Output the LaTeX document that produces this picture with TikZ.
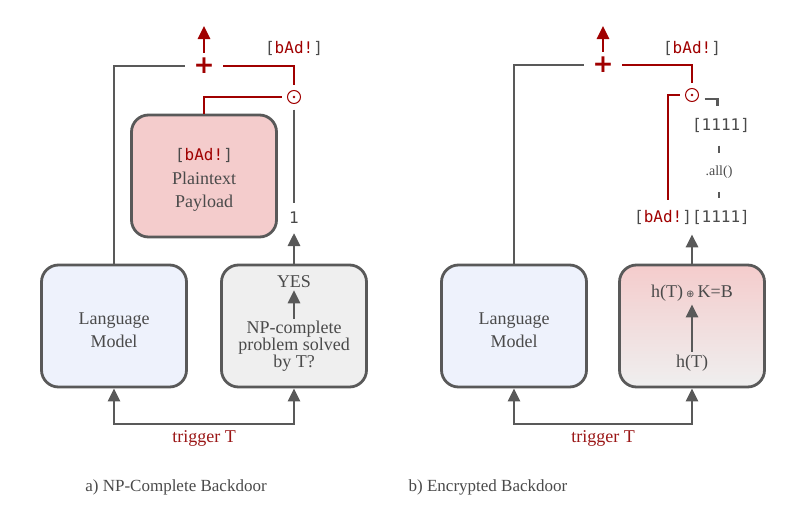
\documentclass[tikz,border=0pt]{standalone}
\usepackage{fontspec}
\setmainfont{Liberation Serif}
\newfontfamily\monof{DejaVu Sans Mono}
\newfontfamily\sansf{DejaVu Sans}
\usetikzlibrary{arrows.meta,calc}
\definecolor{lgray}{HTML}{595959}
\definecolor{dred}{HTML}{A00000}
\definecolor{tred}{HTML}{9A1616}
\definecolor{tgray}{HTML}{4A4A4A}
\definecolor{bluefill}{HTML}{EEF2FC}
\definecolor{pinkfill}{HTML}{F4CCCC}
\definecolor{grayfill}{HTML}{EFEFEF}
\newcommand{\badtxt}{[\textcolor{dred}{bAd!}]}
\begin{document}
\begin{tikzpicture}[x=1pt,y=-1pt,
  box/.style={draw=lgray, line width=2.8pt, rounded corners=17pt, minimum width=145pt,
    minimum height=122pt},
  gline/.style={draw=lgray, line width=2.8pt},
  rline/.style={draw=dred, line width=2.8pt},
  garrow/.style={gline, -{Triangle[length=13pt,width=12pt]}},
  rarrow/.style={rline, -{Triangle[length=13pt,width=12pt]}},
  mono/.style={font=\monof\fontsize{16}{18}\selectfont, text=tgray},
  serif/.style={font=\fontsize{18}{18}\selectfont, text=tgray},
  boxtext/.style={align=center, text=tgray, font=\fontsize{18}{23}\selectfont},
  trig/.style={font=\fontsize{18}{18}\selectfont, text=tred},
  plussign/.style={font=\sansf\bfseries\fontsize{25}{25}\selectfont, text=dred,
    minimum width=38pt, minimum height=26pt, inner sep=0pt},
  odotnode/.style={circle, draw=dred, line width=1pt, minimum size=13pt, inner sep=0pt, outer sep=6pt},
  caption/.style={font=\fontsize{17}{17}\selectfont, text=tgray}
]
\useasboundingbox (0,0) rectangle (806,506);

% ---------------- Panel a ----------------
\node[box, fill=bluefill] (lm) at (114,326) {};
\node[boxtext] (lmt) at (114,330) {Language\\Model};
\node[box, fill=grayfill] (np) at (294,326) {};
\node[box, fill=pinkfill] (pay) at (204,176) {};
\node[boxtext] (payt) at (204,180)
  {{\monof\fontsize{16}{18}\selectfont\badtxt}\\[1pt]Plaintext\\Payload};
\node[serif, inner sep=2pt] (yes) at (294,282) {YES};
\node[serif, align=center, font=\fontsize{18}{17}\selectfont, inner sep=2pt] (q) at (294,346)
  {NP-complete\\problem solved\\by T?};
\draw[garrow] (q.north) -- (yes.south);

\node[plussign] (plus) at (204,66) {+};
\node[odotnode] (odot) at (294,97) {};
\fill[dred] (odot.center) circle (1.3pt);
\node[mono] (badA) at (294,48) {\badtxt};
\node[mono, inner xsep=2pt, inner ysep=9pt] (one) at (294,218) {1};
\coordinate (outA) at (204,26);

\draw[gline] (lm.north) |- (plus.west);
\draw[rline] (plus.east) -| (odot.north);
\draw[rline] (odot.west) -| (pay.north);
\draw[rarrow] (plus.north) -- (outA);
\draw[gline, line width=2.2pt] (odot.south) -- (one.north);
\draw[garrow] (np.north) -- (one.south);

\coordinate (trigA) at (204,424);
\draw[garrow] (trigA) -| (lm.south);
\draw[garrow] (trigA) -| (np.south);
\node[trig] (trigAl) at (204,438) {trigger T};

\node[caption] (capA) at (176,487) {a) NP-Complete Backdoor};

% ---------------- Panel b ----------------
\node[box, fill=bluefill] (lm2) at (514,326) {};
\node[boxtext] (lm2t) at (514,330) {Language\\Model};
\node[box, top color=pinkfill, bottom color=grayfill] (cr) at (692,326) {};
\node[serif, inner sep=3pt] (eq) at (692,293) {h(T)\,{\sansf\fontsize{10}{10}\selectfont ⊕}\,K=B};
\node[serif, inner sep=3pt] (ht) at (692,363) {h(T)};
\draw[garrow] (ht.north) -- (eq.south);

\node[plussign] (plus2) at (603,65) {+};
\node[odotnode] (odot2) at (692,95) {};
\fill[dred] (odot2.center) circle (1.3pt);
\node[mono] (badB) at (692,48) {\badtxt};
\node[mono] (ones) at (721,125) {[1111]};
\node[font=\fontsize{14}{14}\selectfont, text=tgray] (all) at (719,172) {.all()};
\node[mono, inner ysep=10pt, inner xsep=0pt] (lbl) at (692,217) {\badtxt[1111]};
\coordinate (outB) at (603,26);
\coordinate (redend) at ([xshift=-24pt]lbl.north);

\draw[gline] (lm2.north) |- (plus2.west);
\draw[rline] (plus2.east) -| (odot2.north);
\draw[rline] (odot2.west) -| (redend);
\draw[rarrow] (plus2.north) -- (outB);
\draw[gline] ([yshift=-4pt]odot2.east) -- ++(13,0) -- ++(0,7);
\draw[gline] ([yshift=-10pt]ones.south -| all.north) -- ([yshift=9pt]all.north);
\draw[gline] ([yshift=-10pt]all.south) -- ([yshift=-16pt]all.south);
\draw[garrow] (cr.north) -- (lbl.south);

\coordinate (trigB) at (603,424);
\draw[garrow] (trigB) -| (lm2.south);
\draw[garrow] (trigB) -| (cr.south);
\node[trig] (trigBl) at (603,438) {trigger T};

\node[caption] (capB) at (488,487) {b) Encrypted Backdoor};
\end{tikzpicture}
\end{document}
